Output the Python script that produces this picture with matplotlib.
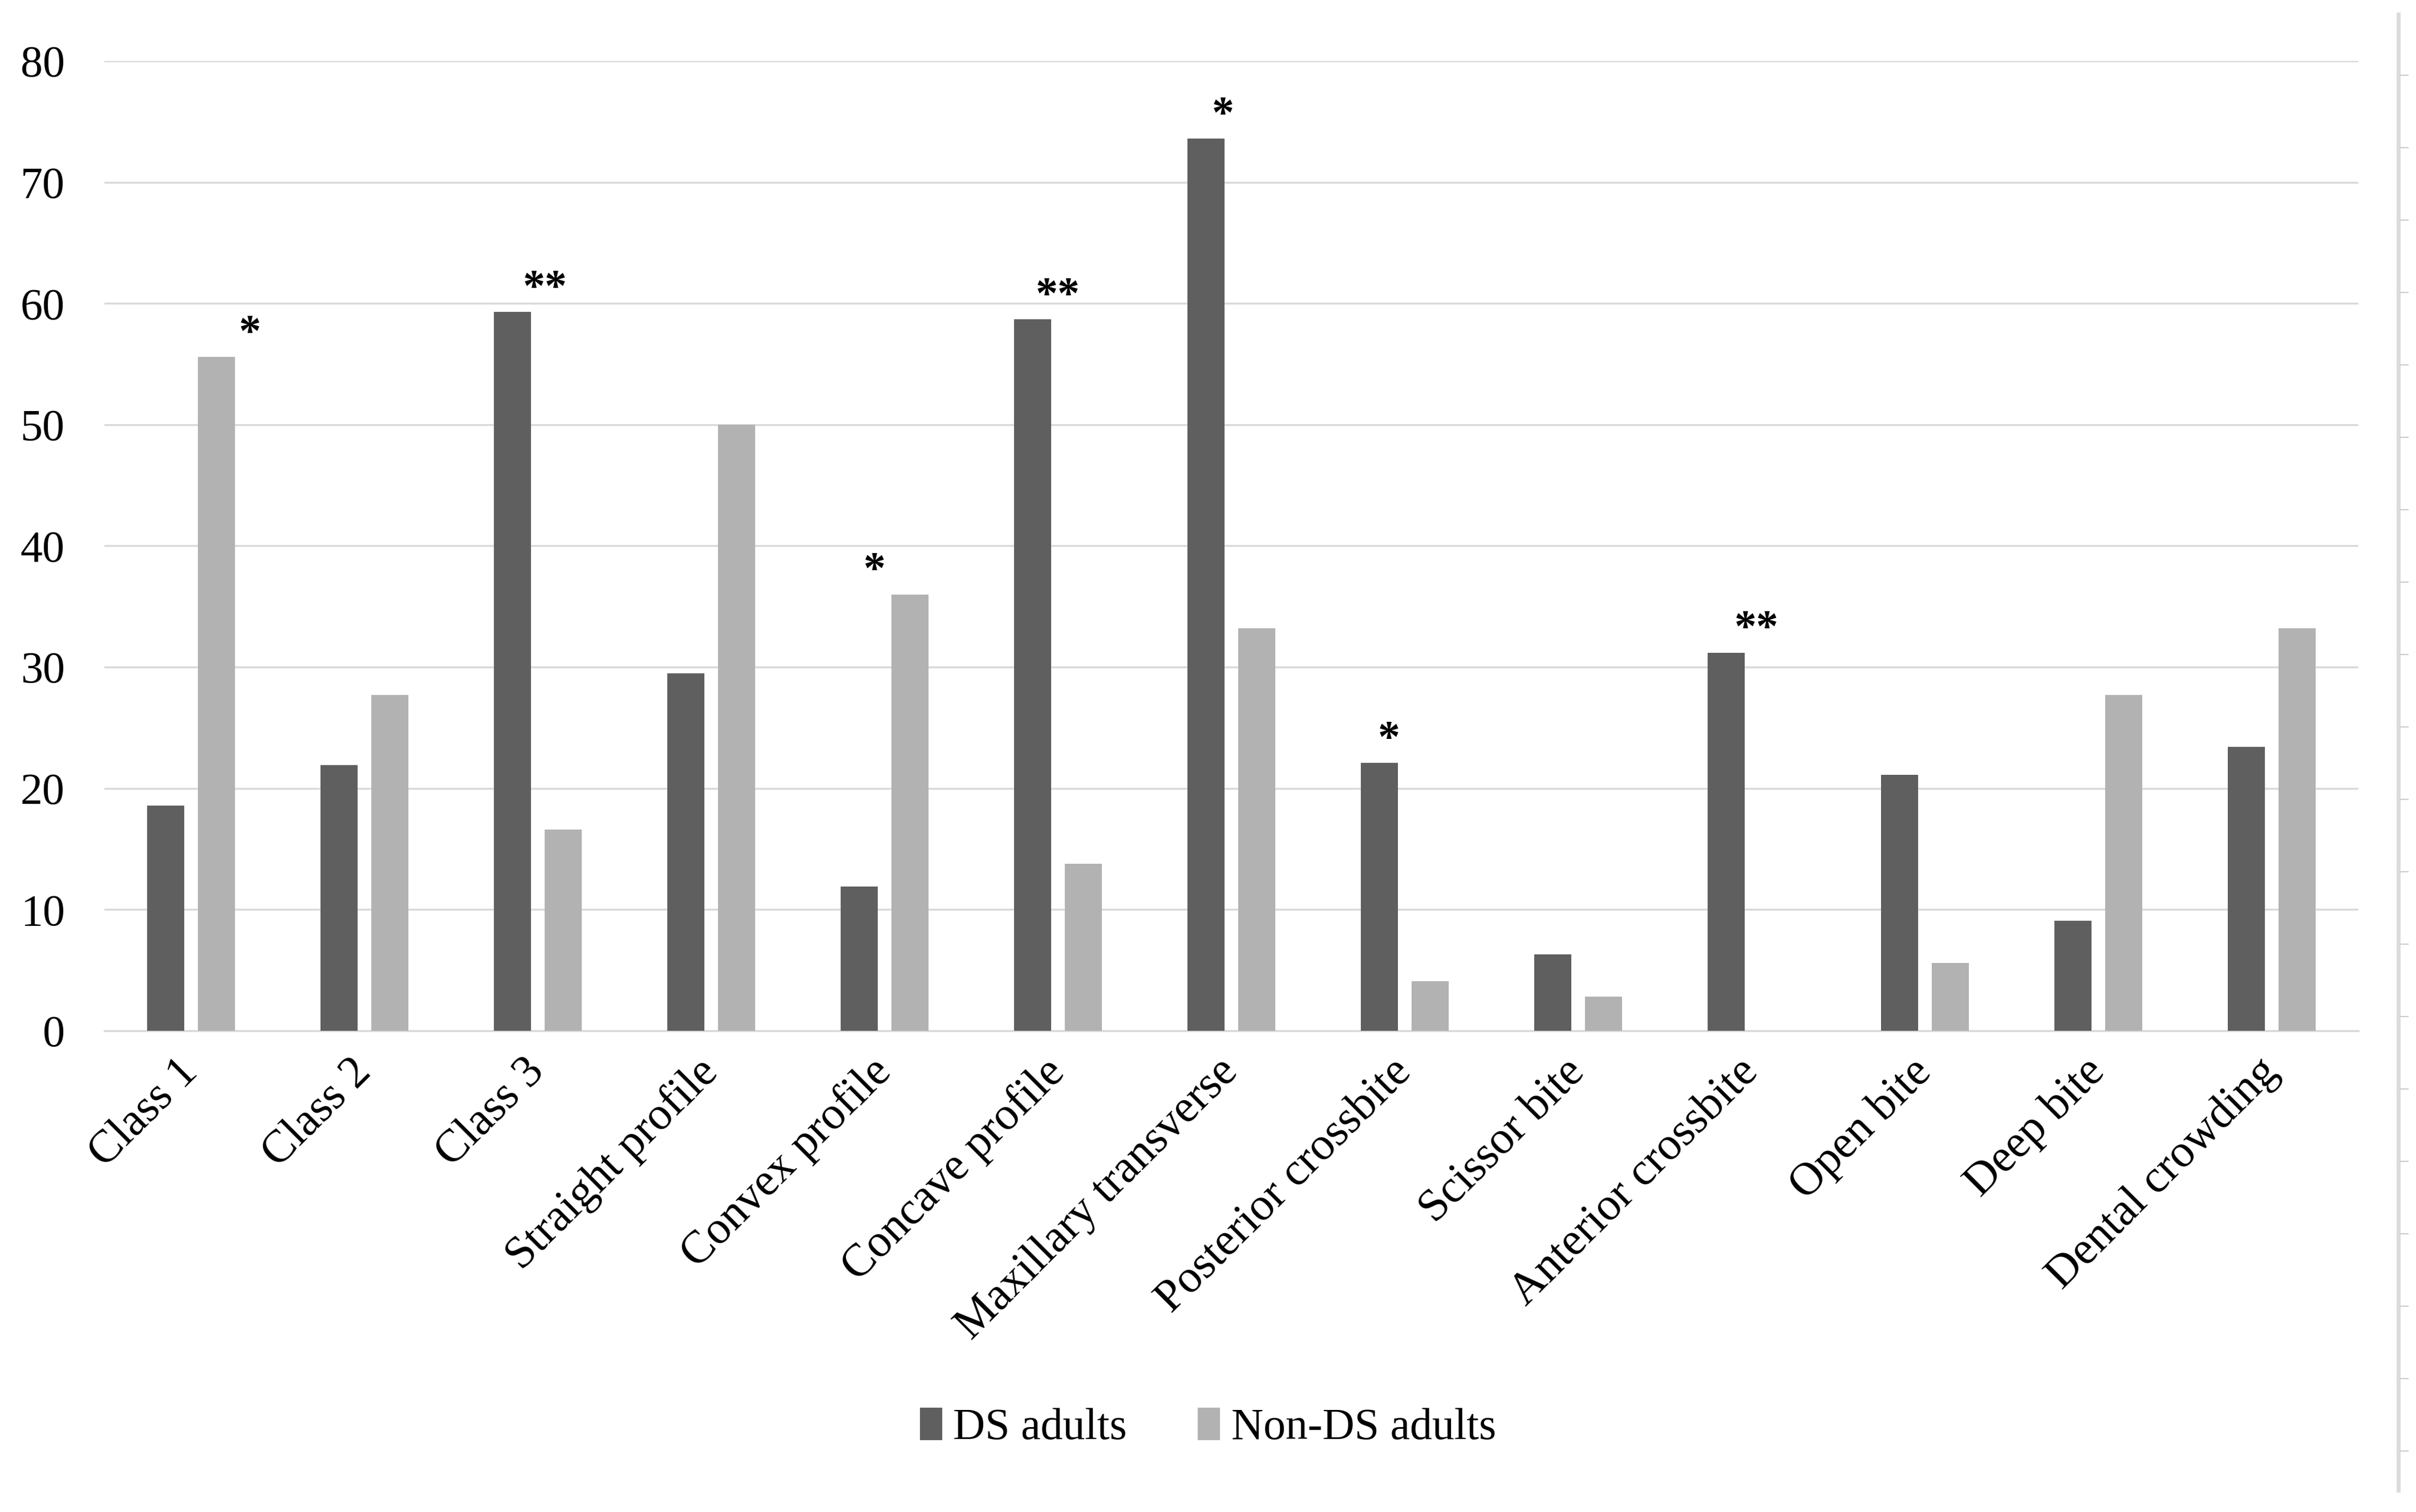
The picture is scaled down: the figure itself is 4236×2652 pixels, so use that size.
"""Grouped bar chart: malocclusion traits in DS vs non-DS adults."""

import matplotlib

matplotlib.use("Agg")
import matplotlib.pyplot as plt
import numpy as np
from matplotlib.lines import Line2D

categories = [
    "Class 1", "Class 2", "Class 3", "Straight profile", "Convex profile",
    "Concave profile", "Maxillary transverse", "Posterior crossbite",
    "Scissor bite", "Anterior crossbite", "Open bite", "Deep bite",
    "Dental crowding",
]
ds_adults = [18.6, 21.9, 59.3, 29.5, 11.9, 58.7, 73.6, 22.1, 6.3, 31.2, 21.1, 9.1, 23.4]
non_ds_adults = [55.6, 27.7, 16.6, 50.0, 36.0, 13.8, 33.2, 4.1, 2.8, 0.0, 5.6, 27.7, 33.2]

# significance marks: (category index, text, which series it sits over)
stars = [
    (0, "*", "non"), (2, "**", "ds"), (4, "*", "non"), (5, "**", "ds"),
    (6, "*", "ds"), (7, "*", "ds"), (9, "**", "ds"),
]
star_dx = {0: 0.34, 2: 0.04, 4: -0.06, 5: 0.0, 6: -0.05, 7: -0.09, 9: 0.03}

DS_COLOR = "#5f5f5f"
NON_COLOR = "#b2b2b2"
GRID = "#d9d9d9"

plt.rcParams["font.family"] = ["Liberation Serif", "DejaVu Serif"]

W, H = 4236, 2652
fig = plt.figure(figsize=(W / 100, H / 100), dpi=100)
ax = fig.add_axes([183 / W, 1 - 1808 / H, (4135 - 183) / W, (1808 - 107) / H])

x = np.arange(len(categories))
bw = 0.215
off = 0.147
ax.bar(x - off, ds_adults, bw, color=DS_COLOR, label="DS adults", zorder=3)
ax.bar(x + off, non_ds_adults, bw, color=NON_COLOR, label="Non-DS adults", zorder=3)

for i, txt, which in stars:
    val = ds_adults[i] if which == "ds" else non_ds_adults[i]
    ax.text(i + star_dx[i], val + 1.0, txt, ha="center", va="baseline",
            fontsize=56, fontweight="bold", color="black", zorder=4)

ax.set_xlim(-0.5, len(categories) - 0.5)
ax.set_ylim(0, 80)
ax.set_yticks(np.arange(0, 81, 10))
ax.yaxis.grid(True, color=GRID, linewidth=2.4, zorder=0)
ax.set_axisbelow(True)
for s in ["top", "right", "left"]:
    ax.spines[s].set_visible(False)
ax.spines["bottom"].set_color(GRID)
ax.spines["bottom"].set_linewidth(2.4)
ax.tick_params(axis="y", length=0, pad=50, labelsize=56)
ax.tick_params(axis="x", length=0, pad=44, labelsize=58)
ax.set_xticks(x)
ax.set_xticklabels(categories, rotation=45, ha="right", va="center",
                   rotation_mode="anchor")

fig.legend(loc="center", bbox_to_anchor=(0.5, 1 - 2505 / H), ncol=2,
           frameon=False, fontsize=56, handlelength=0.5, handleheight=0.75,
           handletextpad=0.25, columnspacing=1.6)

# thin page-edge rule at the right side of the source image
fig.add_artist(Line2D([4205 / W, 4205 / W], [1 - 25 / H, 1 - 2614 / H],
                      color="#dcdcdc", linewidth=5))
for k in range(20):
    ty = 1 - (132 + k * 127) / H
    fig.add_artist(Line2D([4208 / W, 4222 / W], [ty, ty], color="#cccccc",
                          linewidth=1.5))

fig.savefig("out.png", dpi=100, facecolor="white")
print("wrote out.png")
